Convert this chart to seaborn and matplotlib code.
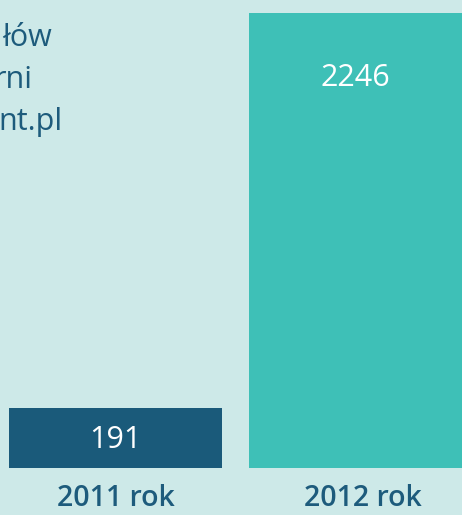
import matplotlib
matplotlib.use("Agg")
import matplotlib.pyplot as plt
import seaborn as sns
import pandas as pd

categories = ["2011 rok", "2012 rok"]
values = [191, 2246]
title_tail = ["łów", "rni", "nt.pl"]

BG = "#cde9e8"
DARK = "#1a5a7a"
TEAL = "#3ec0b7"
TXT = "#1d5b7c"
OFFSET = 121  # visual baseline offset (bars start below zero)
PX = 5.2      # data units per pixel

sns.set_theme(style="white")
plt.rcParams["font.family"] = ["Open Sans", "DejaVu Sans"]

fig = plt.figure(figsize=(4.62, 5.15), dpi=100)
fig.patch.set_facecolor(BG)
ax = fig.add_axes([0, 0, 1, 1])
ax.set_facecolor(BG)

df = pd.DataFrame({"cat": categories, "val": values})
sns.barplot(data=df, x="cat", y="val", hue="cat", palette=[DARK, TEAL],
            width=0.8875, legend=False, ax=ax, saturation=1)

for p in ax.patches:
    h = p.get_height()
    p.set_y(-OFFSET)
    p.set_height(h + OFFSET)
    p.set_linewidth(0)

ax.set_xlim(-0.481, 1.444)
ax.set_ylim(-365.5, 2313.6)
ax.axis("off")

# value labels
ax.text(0, -OFFSET + 28 * PX, str(values[0]), ha="center", va="center",
        color="white", fontsize=22)
ax.text(1, values[1] - 65 * PX, str(values[1]), ha="center", va="center",
        color="white", fontsize=22)

# category labels
label_x = [0, 1.03]
for x, c in zip(label_x, categories):
    ax.text(x, -OFFSET - 31 * PX, c, ha="center", va="center", color=TXT,
            fontsize=20.5, fontweight="semibold")

# partially visible title lines at top-left
xs = [52, 32, 63]
ys = [38, 80, 122]
for t, x, y in zip(title_tail, xs, ys):
    fig.text(x / 462, 1 - y / 515, t, ha="right", va="center", color=TXT,
             fontsize=22)

fig.savefig("out.png", dpi=100, facecolor=BG)
